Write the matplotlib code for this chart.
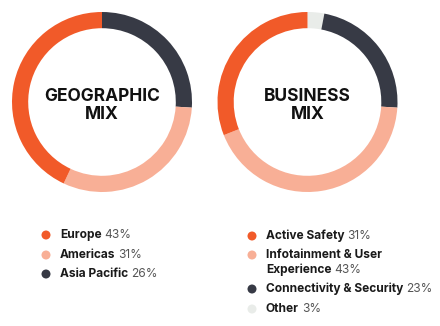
import matplotlib
matplotlib.use("Agg")
import matplotlib.pyplot as plt
from matplotlib.patches import Ellipse

plt.rcParams['font.family'] = ['Inter', 'DejaVu Sans']

W, H = 440, 326

# colours
ORANGE = '#F15A29'
PINK = '#F8AF96'
DARK = '#373A45'
LIGHT = '#E9ECE9'

# geographic mix, clockwise from 12 o'clock
geo_names = ['Asia Pacific', 'Americas', 'Europe']
geo_values = [26, 31, 43]
geo_colors = [DARK, PINK, ORANGE]

# business mix, clockwise from 12 o'clock
biz_names = ['Other', 'Connectivity & Security', 'Infotainment & User\nExperience', 'Active Safety']
biz_values = [3, 23, 43, 31]
biz_colors = [LIGHT, DARK, PINK, ORANGE]

# legend order
geo_legend = [2, 1, 0]
biz_legend = [3, 2, 1, 0]

fig = plt.figure(figsize=(W / 100, H / 100), dpi=100)
fig.patch.set_facecolor('white')


def donut(cx, cy, r, values, colors, title):
    ax = fig.add_axes([(cx - r) / W, (H - cy - r) / H, 2 * r / W, 2 * r / H])
    ax.pie(values, colors=colors, startangle=90, counterclock=False,
           radius=1, wedgeprops=dict(width=0.18, linewidth=0))
    ax.set_xlim(-1, 1)
    ax.set_ylim(-1, 1)
    ax.set_aspect('equal')
    ax.axis('off')
    ax.text(0, -0.04, title, ha='center', va='center', fontsize=12.5,
            fontweight='bold', color='#111111', linespacing=1.1)


donut(102, 102, 90, geo_values, geo_colors, 'GEOGRAPHIC\nMIX')
donut(307.5, 102, 90, biz_values, biz_colors, 'BUSINESS\nMIX')

renderer = fig.canvas.get_renderer()


def legend_item(x, y, name, value, color):
    fig.add_artist(Ellipse((x / W, (H - y) / H), 9 / W, 9 / H,
                           transform=fig.transFigure, color=color, lw=0))
    lines = name.split('\n')
    tx = x + 14
    for i, line in enumerate(lines):
        ty = y + i * 15
        t = fig.text(tx / W, (H - ty) / H, line, fontsize=8.6, fontweight='bold',
                     color='#1a1a1a', va='center', ha='left')
        if i == len(lines) - 1:
            bb = t.get_window_extent(renderer)
            fig.text((bb.x1 + 3) / W, (H - ty) / H, f'{value}%', fontsize=8.6,
                     color='#555555', va='center', ha='left')


gy = [235, 255, 274]
for k, idx in enumerate(geo_legend):
    legend_item(46, gy[k], geo_names[idx], geo_values[idx], geo_colors[idx])

by = [236, 255, 289, 309]
for k, idx in enumerate(biz_legend):
    legend_item(252, by[k], biz_names[idx], biz_values[idx], biz_colors[idx])

fig.savefig('out.png', dpi=100, facecolor='white')
